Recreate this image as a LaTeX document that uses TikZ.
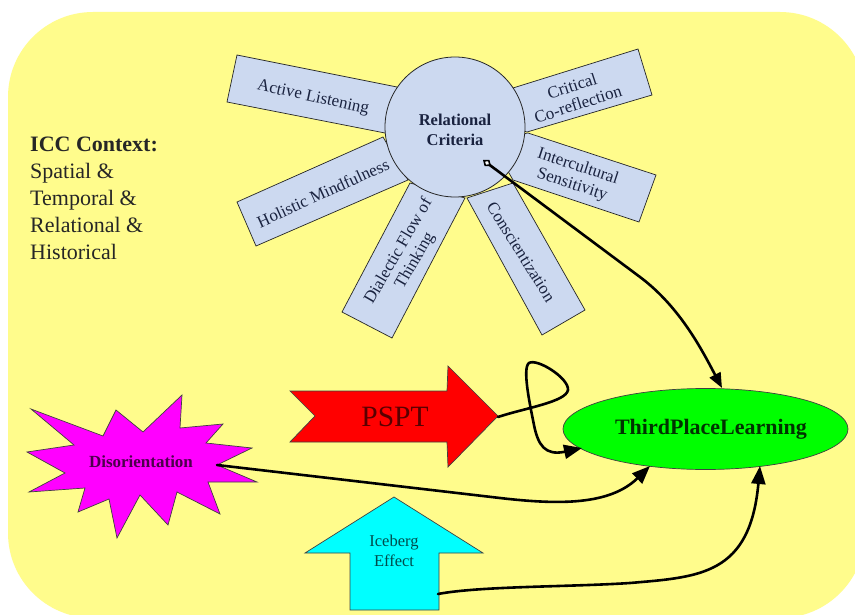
\documentclass[tikz,border=0pt]{standalone}
\usepackage{fontspec}
\setmainfont{Liberation Serif}
\usetikzlibrary{arrows.meta,shapes.geometric}
\definecolor{bgyellow}{HTML}{FFFC8C}
\definecolor{boxblue}{HTML}{CCD9F0}
\definecolor{inkdark}{HTML}{1A2340}
\definecolor{pmagenta}{RGB}{255,0,255}
\definecolor{pcyan}{RGB}{0,255,255}
\definecolor{pgreen}{RGB}{0,255,0}
\definecolor{pred}{RGB}{255,0,0}
\tikzset{
  armbox/.style={draw=black!85,line width=0.7pt,fill=boxblue,line join=miter},
  armlabel/.style={font=\fontsize{17}{19}\selectfont,text=inkdark,align=center,inner sep=0pt},
  hublabel/.style={font=\fontsize{16.5}{20}\selectfont\bfseries,text=inkdark,align=center},
  conn/.style={draw=black,line width=2.6pt,line cap=round,-{Triangle[length=18pt,width=14pt]}},
  sidetext/.style={font=\fontsize{22}{27}\selectfont,text=black!85,align=left,anchor=north west,inner sep=0pt},
  shapeline/.style={draw=black!75,line width=0.7pt,line join=miter}
}
\begin{document}
\begin{tikzpicture}[x=1pt,y=-1pt]
\useasboundingbox (0,0) rectangle (855,615);
\fill[white] (0,0) rectangle (855,615);
\begin{scope}
\clip (0,0) rectangle (855,615);
\fill[bgyellow,rounded corners=85pt] (8,12) rectangle (865,618);
\end{scope}
% arms
\draw[armbox] (397,87) -- (237,55) -- (227,102) -- (385,133) -- (420,120) -- cycle;
\draw[armbox] (513,88) -- (638,49) -- (652,95) -- (527,132) -- (490,120) -- cycle;
\draw[armbox] (528,133) -- (656,175) -- (639,222) -- (513,180) -- (490,140) -- cycle;
\draw[armbox] (467,198) -- (513,183) -- (585,310) -- (542,335) -- cycle;
\draw[armbox] (410,183) -- (465,198) -- (392,338) -- (342,312) -- cycle;
\draw[armbox] (383,137) -- (408,180) -- (256,246) -- (237,202) -- cycle;
\node[armlabel,rotate=-12] (al) at (313,98) {Active Listening};
\node[armlabel,rotate=18] (cc) at (575,95) {Critical\\Co-reflection};
\node[armlabel,rotate=-18] (is) at (575,176) {Intercultural\\Sensitivity};
\node[armlabel,rotate=-58] (co) at (521,252) {Conscientization};
\node[armlabel,rotate=60] (df) at (407,256) {Dialectic Flow of\\Thinking};
\node[armlabel,rotate=24.5] (hm) at (323,193) {Holistic Mindfulness};
% hub
\node[circle,draw=black!85,line width=0.8pt,fill=boxblue,minimum size=140pt,inner sep=0pt] (rc) at (455,127) {};
\node[hublabel] (rctext) at (455,130) {Relational\\Criteria};
% side text
\node[sidetext] (ctx) at (30,137) {\textbf{ICC Context:}\\Spatial \&\\Temporal \&\\Relational \&\\Historical};
% star
\draw[shapeline,fill=pmagenta] (31,409) -- (103,436) -- (116,410) -- (143,432) -- (182,395) -- (180,428) -- (223,424) -- (206,443) -- (252,448) -- (217,465) -- (257,482) -- (208,482) -- (220,514) -- (177,492) -- (168,525) -- (140,495) -- (117,538) -- (109,499) -- (78,512) -- (85,488) -- (29,492) -- (65,473) -- (27,452) -- (74,445) -- cycle;
\node[font=\fontsize{17}{18}\selectfont\bfseries,text=black!70!pmagenta] (dis) at (141,462) {Disorientation};
\coordinate (disout) at (217,465);
% pspt
\draw[shapeline,fill=pred] (290,391) -- (447,391) -- (448,366) -- (498,416) -- (448,467) -- (447,442) -- (290,442) -- (315,416) -- cycle;
\node[font=\fontsize{29.5}{32}\selectfont,text=black!65!pred] (pspt) at (395,417) {PSPT};
\coordinate (psptout) at (498,417);
% iceberg
\draw[shapeline,fill=pcyan] (394,497) -- (483,553) -- (439,553) -- (439,610) -- (350,610) -- (350,553) -- (305,553) -- cycle;
\node[font=\fontsize{16.5}{20}\selectfont,text=black!70!pcyan,align=center] (ice) at (394,551) {Iceberg\\Effect};
\coordinate (iceout) at (438,594);
% third place learning
\node[ellipse,draw=black!75,line width=0.7pt,fill=pgreen,minimum width=285pt,minimum height=81pt,inner sep=0pt] (tpl) at (705.5,429) {};
\node[font=\fontsize{22}{24}\selectfont\bfseries,text=black!80!pgreen] (tpltext) at (711,429) {ThirdPlaceLearning};
\coordinate (tplin1) at (722,388);
\coordinate (tplin2) at (582,448);
\coordinate (tplin3) at (650,466);
\coordinate (tplin4) at (760,466);
\coordinate (hubout) at (483,160);
% connectors
\draw[conn,{Diamond[open,fill=white,length=10pt,width=8pt,line width=1.6pt]}-{Triangle[length=15pt,width=12pt]}] (hubout) -- (640,277) .. controls (680,307) and (702,350) .. (tplin1);
\draw[conn] (psptout) .. controls (525,408) and (566,402) .. (568,390) .. controls (569,378) and (537,358) .. (529,363) .. controls (522,368) and (530,405) .. (534,425) .. controls (538,445) and (545,456) .. (tplin2);
\draw[conn] (disout) -- (500,498) .. controls (560,505) and (610,505) .. (tplin3);
\draw[conn] (iceout) .. controls (480,586) and (570,587) .. (630,583) .. controls (700,577) and (750,575) .. (tplin4);
\end{tikzpicture}
\end{document}
